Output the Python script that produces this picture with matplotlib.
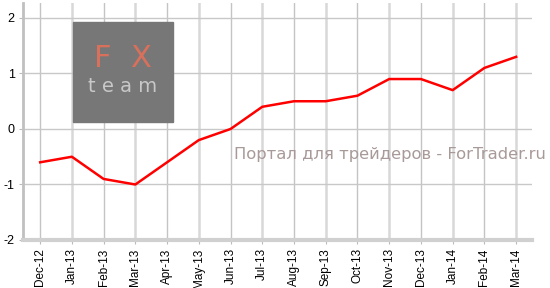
import matplotlib
matplotlib.use('Agg')
import matplotlib.pyplot as plt

months = ['Dec-12', 'Jan-13', 'Feb-13', 'Mar-13', 'Apr-13', 'May-13', 'Jun-13', 'Jul-13',
          'Aug-13', 'Sep-13', 'Oct-13', 'Nov-13', 'Dec-13', 'Jan-14', 'Feb-14', 'Mar-14']
values = [-0.6, -0.5, -0.9, -1.0, -0.6, -0.2, 0.0, 0.4,
          0.5, 0.5, 0.6, 0.9, 0.9, 0.7, 1.1, 1.3]
yticks = [-2, -1, 0, 1, 2]

plt.rcParams['font.family'] = ['Liberation Sans', 'DejaVu Sans']

fig = plt.figure(figsize=(5.5, 2.88), dpi=100)
ax = fig.add_axes([23 / 550, 48 / 288, 509 / 550, 237 / 288])

x = list(range(len(months)))
ax.set_xlim(-0.54, len(months) - 0.5)
ax.set_ylim(-2, 2.27)

for i in x:
    ax.axvline(i, color='#d8d8d8' if i % 2 else '#c4c4c4', lw=1.8 if i % 2 else 1.0, zorder=1)
for t in yticks[1:]:
    ax.axhline(t, color='#c8c8c8', lw=1.0, zorder=1)

# logo block
ax.add_patch(plt.Rectangle((1.04, 0.126), 3.16, 1.8, color='#777777', zorder=2))
ax.text(2.6, 1.27, 'F  X', color='#d8705c', fontsize=22, ha='center', va='center',
        family=['DejaVu Sans'], zorder=3)
ax.text(2.6, 0.76, 't e a m', color='#c8c8c8', fontsize=14, ha='center', va='center',
        family=['DejaVu Sans'], zorder=3)

ax.plot(x, values, color='#ff0000', lw=1.8, zorder=4)

fig.text(234 / 550, 1 - 155 / 288, 'Портал для трейдеров - ForTrader.ru',
         color='#a89a98', fontsize=11.8, ha='left', va='center', zorder=5,
         family=['DejaVu Sans'])

ax.set_xticks(x)
ax.set_xticklabels(months, rotation=90, fontsize=8.5)
ax.set_yticks(yticks)
ax.set_yticklabels([str(t) for t in yticks], fontsize=9)
ax.tick_params(axis='both', length=3, color='#bbbbbb', pad=3)

for s in ['top', 'right']:
    ax.spines[s].set_visible(False)
ax.spines['left'].set_color('#c0c0c0')
ax.spines['left'].set_linewidth(2)
ax.spines['bottom'].set_color('#d0d0d0')
ax.spines['bottom'].set_linewidth(3)

fig.savefig('out.png', dpi=100)
